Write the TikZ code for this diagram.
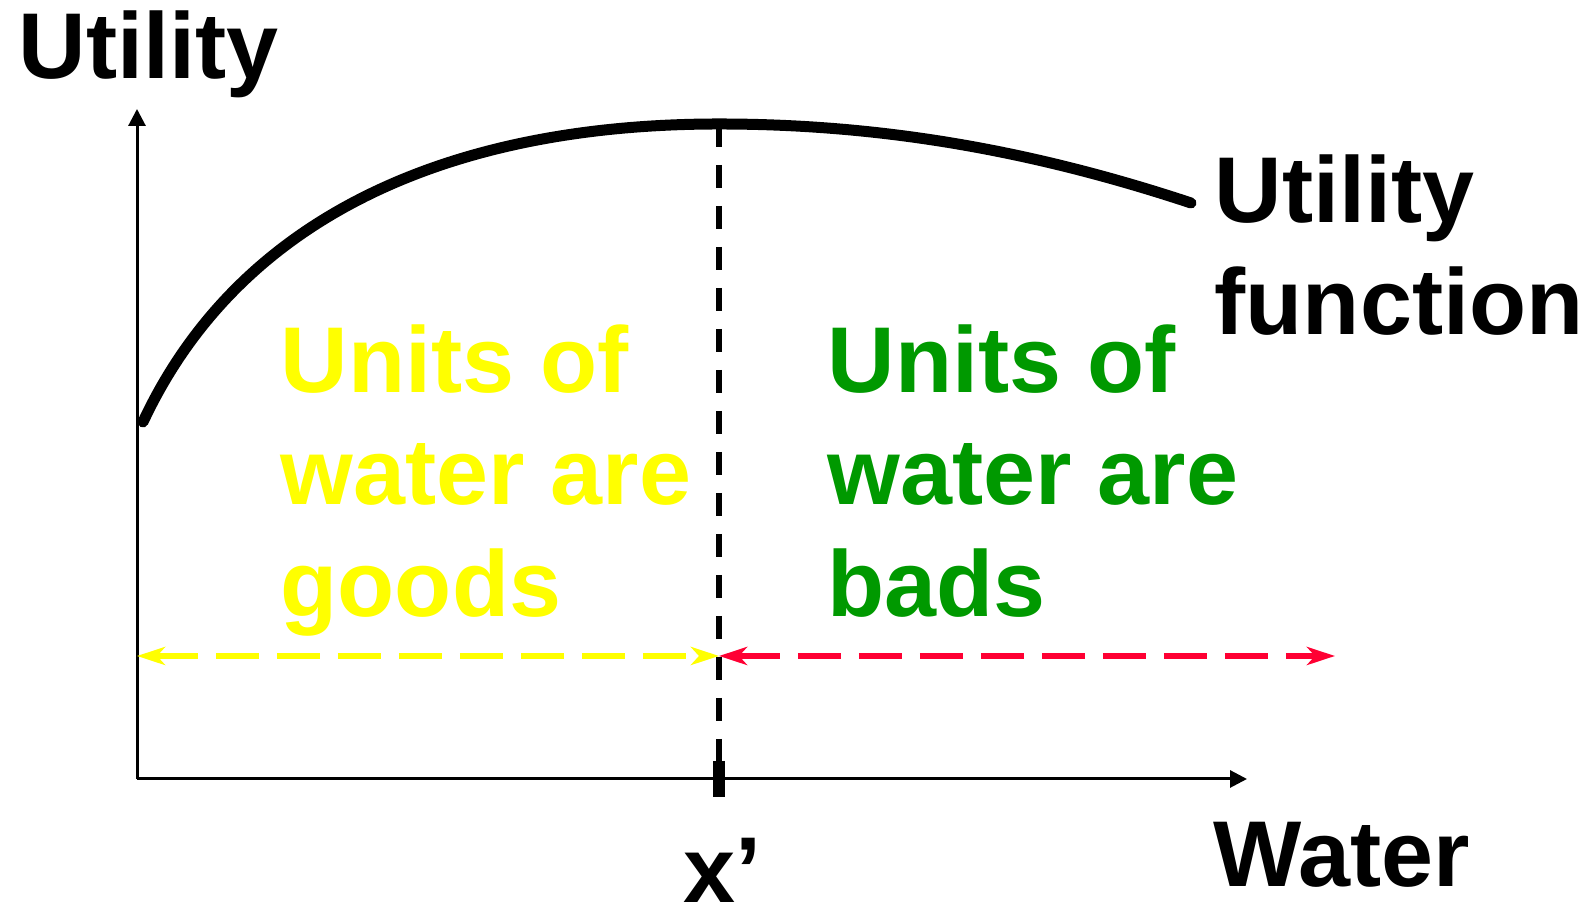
\documentclass[tikz,border=0pt]{standalone}
\usepackage{fontspec}
\setmainfont{Liberation Sans}
\usepackage{xcolor}
\usepackage{tikz}
\usetikzlibrary{arrows.meta, calc}

\definecolor{goodyellow}{RGB}{255,255,0}
\definecolor{badgreen}{RGB}{0,153,0}
\definecolor{badred}{RGB}{255,0,51}

\begin{document}
\begin{tikzpicture}[
    lbl/.style={inner sep=0pt, anchor=base west, align=left, font=\fontsize{26.6}{32}\selectfont\bfseries},
    axis/.style={-{Triangle[length=0.17cm, width=0.17cm]}, line width=0.03cm, black},
    spanarr/.style={{Stealth[length=0.28cm, width=0.18cm, inset=0.08cm]}-{Stealth[length=0.28cm, width=0.18cm, inset=0.08cm]}, line width=0.06cm, dash pattern=on 0.43cm off 0.18cm},
]
    \useasboundingbox (0,0) rectangle (15.9,9.1);

    % Origin and axis ends
    \coordinate (origin) at (1.37, 1.31);
    \coordinate (ytop)   at (1.37, 8.01);
    \coordinate (xend)   at (12.47, 1.31);

    % Axes
    \draw[axis] (origin) -- (ytop);
    \draw[axis] (origin) -- (xend);

    % Utility curve: rising, peak at x', then falling
    \coordinate (ustart) at (1.43, 4.88);
    \coordinate (upeak)  at (7.19, 7.86);
    \coordinate (uend)   at (11.91, 7.07);
    \draw[line width=0.11cm, line cap=round] (ustart)
        .. controls (2.36, 6.87) and (4.4, 7.86) .. (upeak)
        .. controls (8.8, 7.86) and (10.31, 7.60) .. (uend);

    % Satiation point x'
    \coordinate (xtick) at (7.19, 1.31);
    \draw[line width=0.06cm, dash pattern=on 0.23cm off 0.18cm] (upeak) -- (xtick);
    \draw[line width=0.12cm] ($(xtick)+(0,0.18)$) -- ($(xtick)+(0,-0.18)$);

    % Goods / bads ranges
    \coordinate (rleft)  at (1.37, 2.54);
    \coordinate (rmid)   at (7.19, 2.54);
    \coordinate (rright) at (13.35, 2.54);
    \draw[spanarr, goodyellow] (rleft) -- (rmid);
    \draw[spanarr, badred] (rmid) -- (rright);

    % Labels (base = baseline of the last line)
    \node[lbl] (ylab)  at (0.18, 8.31) {Utility};
    \node[lbl] (ufun)  at (12.14, 5.75) {Utility\\function};
    \node[lbl] (xlab)  at (12.13, 0.23) {Water};
    \node[lbl] (xprim) at (6.83, 0.07) {x’};
    \node[lbl, text=goodyellow] (goods) at (2.80, 2.93) {Units of\\water are\\goods};
    \node[lbl, text=badgreen]   (bads)  at (8.27, 2.93) {Units of\\water are\\bads};
\end{tikzpicture}
\end{document}
